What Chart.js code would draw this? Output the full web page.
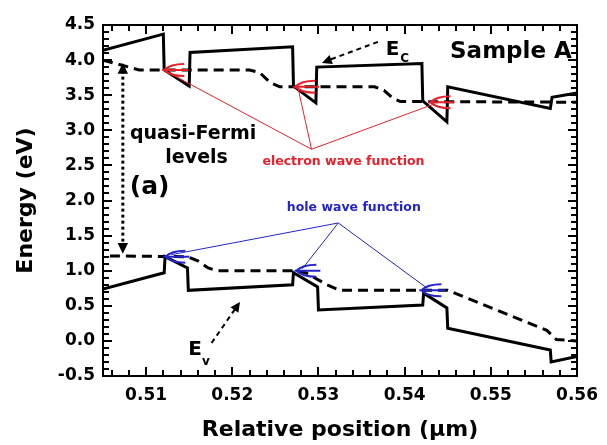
<!DOCTYPE html>
<html>
<head>
<meta charset="utf-8">
<script src="https://cdn.jsdelivr.net/npm/chart.js@4.4.1/dist/chart.umd.min.js"></script>
<style>
  html, body { margin: 0; padding: 0; background: #fff; }
  #wrap { width: 607px; height: 445px; }
</style>
</head>
<body>
<div id="wrap"><canvas id="bandChart" width="607" height="445"></canvas></div>
<script>
// conduction band edge (Ec)
const ecX = [0.5050, 0.5120, 0.5121, 0.5150, 0.5151, 0.5270, 0.5271, 0.5297, 0.5298, 0.5420, 0.5421, 0.5449, 0.5450, 0.5569, 0.5571, 0.5600];
const ecY = [4.14, 4.37, 3.86, 3.63, 4.11, 4.19, 3.63, 3.39, 3.90, 3.95, 3.42, 3.12, 3.62, 3.31, 3.47, 3.53];

// valence band edge (Ev)
const evX = [0.5050, 0.5121, 0.5122, 0.5148, 0.5149, 0.5270, 0.5271, 0.5299, 0.5300, 0.5421, 0.5422, 0.5449, 0.5450, 0.5569, 0.5570, 0.5600];
const evY = [0.74, 0.97, 1.20, 1.04, 0.72, 0.80, 0.97, 0.77, 0.44, 0.51, 0.68, 0.47, 0.18, -0.13, -0.30, -0.22];

// electron quasi-Fermi level
const efnX = [0.5050, 0.5092, 0.5220, 0.5232, 0.5244, 0.5255, 0.5365, 0.5376, 0.5386, 0.5395, 0.5600];
const efnY = [4.00, 3.86, 3.86, 3.82, 3.68, 3.62, 3.62, 3.57, 3.46, 3.41, 3.40];

// hole quasi-Fermi level
const efpX = [0.5058, 0.5148, 0.5160, 0.5172, 0.5182, 0.5270, 0.5285, 0.5310, 0.5325, 0.5450, 0.5565, 0.5576, 0.5600];
const efpY = [1.21, 1.20, 1.14, 1.04, 1.00, 1.00, 0.97, 0.80, 0.72, 0.72, 0.15, 0.02, 0.00];

// wave function ground states
const elecWfX = [0.5121, 0.5273, 0.5430];
const elecWfY = [3.86, 3.62, 3.40];
const holeWfX = [0.5127, 0.5279, 0.5424];
const holeWfY = [1.20, 1.00, 0.72];

const xTicks = [0.51, 0.52, 0.53, 0.54, 0.55, 0.56];
const yTicks = [-0.5, 0.0, 0.5, 1.0, 1.5, 2.0, 2.5, 3.0, 3.5, 4.0, 4.5];

const FONT = 'DejaVu Sans';
const RED = '#e8202a';
const BLUE = '#2424c8';

function toPoints(xs, ys) {
    return xs.map((x, i) => ({x: x, y: ys[i]}));
}

function headAt(ctx, x0, y0, x1, y1, size) {
    const ang = Math.atan2(y1 - y0, x1 - x0);
    ctx.beginPath();
    ctx.moveTo(x1, y1);
    ctx.lineTo(x1 - size * Math.cos(ang - 0.45), y1 - size * Math.sin(ang - 0.45));
    ctx.lineTo(x1 - size * Math.cos(ang + 0.45), y1 - size * Math.sin(ang + 0.45));
    ctx.closePath();
    ctx.fill();
}

function wfMarker(ctx, mx, my) {
    ctx.beginPath();
    ctx.moveTo(mx + 20, my - 6);
    ctx.quadraticCurveTo(mx + 6, my - 6, mx, my);
    ctx.quadraticCurveTo(mx + 6, my + 6, mx + 20, my + 6);
    ctx.moveTo(mx - 2, my);
    ctx.lineTo(mx + 24, my);
    ctx.stroke();
}

// frame and inward major/minor ticks, drawn last
const frameTicks = {
    id: 'frameTicks',
    afterDraw(chart) {
        const {ctx, chartArea: a, scales} = chart;
        ctx.save();
        ctx.strokeStyle = '#000';
        ctx.lineWidth = 2;
        ctx.strokeRect(a.left, a.top, a.right - a.left, a.bottom - a.top);
        ctx.fillStyle = '#000';
        for (let i = 253; i <= 280; i++) {
            const xx = Math.round(scales.x.getPixelForValue(i * 0.002));
            const len = i % 5 === 0 ? 9 : 6;
            ctx.fillRect(xx - 1, a.bottom - len, 2, len);
            ctx.fillRect(xx - 1, a.top, 2, len);
        }
        for (let i = -5; i <= 45; i++) {
            const yy = Math.round(scales.y.getPixelForValue(i / 10));
            const len = i % 5 === 0 ? 9 : 6;
            ctx.fillRect(a.left, yy - 1, len, 2);
            ctx.fillRect(a.right - len, yy - 1, len, 2);
        }
        ctx.restore();
    }
};

const bandDecor = {
    id: 'bandDecor',
    afterDatasetsDraw(chart) {
        const {ctx, scales: {x, y}} = chart;
        const px = v => x.getPixelForValue(v);
        const py = v => y.getPixelForValue(v);
        ctx.save();

        // quasi-Fermi dotted double arrow
        ctx.strokeStyle = '#000';
        ctx.fillStyle = '#000';
        ctx.lineWidth = 3;
        ctx.setLineDash([3, 3]);
        const qx = px(0.5073);
        ctx.beginPath();
        ctx.moveTo(qx, py(3.85)); ctx.lineTo(qx, py(1.36));
        ctx.stroke();
        ctx.setLineDash([]);
        headAt(ctx, qx, py(3.5), qx, py(3.96), 12);
        headAt(ctx, qx, py(1.6), qx, py(1.24), 12);

        // Ec / Ev dashed pointers
        ctx.lineWidth = 2;
        ctx.setLineDash([5, 4]);
        ctx.beginPath();
        ctx.moveTo(px(0.5369), py(4.26)); ctx.lineTo(px(0.5312), py(4.00));
        ctx.moveTo(px(0.5176), py(-0.03)); ctx.lineTo(px(0.5203), py(0.45));
        ctx.stroke();
        ctx.setLineDash([]);
        headAt(ctx, px(0.5369), py(4.26), px(0.5304), py(3.96), 11);
        headAt(ctx, px(0.5176), py(-0.03), px(0.5209), py(0.555), 11);

        // wave function pointers and markers
        ctx.lineWidth = 1;
        ctx.strokeStyle = RED;
        ctx.beginPath();
        elecWfX.forEach((v, i) => {
            ctx.moveTo(px(0.5292), py(2.73));
            ctx.lineTo(px(v) + 3, py(elecWfY[i]) + 2);
        });
        ctx.stroke();
        ctx.lineWidth = 2;
        elecWfX.forEach((v, i) => wfMarker(ctx, px(v), py(elecWfY[i])));

        ctx.lineWidth = 1;
        ctx.strokeStyle = BLUE;
        ctx.beginPath();
        holeWfX.forEach((v, i) => {
            ctx.moveTo(px(0.5323), py(1.68));
            ctx.lineTo(px(v) + 2, py(holeWfY[i]) - 2);
        });
        ctx.stroke();
        ctx.lineWidth = 2;
        holeWfX.forEach((v, i) => wfMarker(ctx, px(v) - 4, py(holeWfY[i])));

        // texts
        ctx.textBaseline = 'middle';
        ctx.fillStyle = '#000';
        ctx.textAlign = 'right';
        ctx.font = `bold 23px "${FONT}"`;
        ctx.fillText('Sample A', px(0.5594), py(4.115));
        ctx.textAlign = 'center';
        ctx.font = `bold 19px "${FONT}"`;
        ctx.fillText('quasi-Fermi', px(0.51546), py(2.947));
        ctx.fillText('levels', px(0.51586), py(2.605));
        ctx.textAlign = 'left';
        ctx.font = `bold 25px "${FONT}"`;
        ctx.fillText('(a)', px(0.5081), py(2.19));
        ctx.font = `bold 20px "${FONT}"`;
        ctx.fillText('E', px(0.5378), py(4.14));
        ctx.fillText('E', px(0.5149), py(-0.13));
        ctx.font = `bold 12px "${FONT}"`;
        ctx.fillText('C', px(0.5395), py(4.02));
        ctx.fillText('v', px(0.5165), py(-0.30));

        ctx.textAlign = 'center';
        ctx.font = `bold 12.5px "${FONT}"`;
        ctx.fillStyle = RED;
        ctx.fillText('electron wave function', px(0.5329), py(2.55));
        ctx.fillStyle = BLUE;
        ctx.fillText('hole wave function', px(0.5341), py(1.89));

        ctx.restore();
    }
};

const tickFont = {family: FONT, weight: 'bold', size: 17};
const titleFont = {family: FONT, weight: 'bold', size: 22};

new Chart(document.getElementById('bandChart'), {
    type: 'line',
    data: {
        datasets: [
            {label: 'Ec', data: toPoints(ecX, ecY), borderColor: '#000', borderWidth: 3},
            {label: 'Efn', data: toPoints(efnX, efnY), borderColor: '#000', borderWidth: 3, borderDash: [10, 6]},
            {label: 'Ev', data: toPoints(evX, evY), borderColor: '#000', borderWidth: 3},
            {label: 'Efp', data: toPoints(efpX, efpY), borderColor: '#000', borderWidth: 3, borderDash: [10, 6]}
        ]
    },
    options: {
        responsive: false,
        animation: false,
        devicePixelRatio: 1,
        elements: {point: {radius: 0}, line: {tension: 0}},
        layout: {padding: {left: 0, top: 25, right: 23, bottom: 0}},
        plugins: {legend: {display: false}, tooltip: {enabled: false}},
        scales: {
            x: {
                type: 'linear',
                min: 0.505,
                max: 0.56,
                afterBuildTicks: s => { s.ticks = xTicks.map(v => ({value: v})); },
                afterFit: s => { s.height = 69; },
                grid: {display: false, drawTicks: false},
                border: {display: false},
                ticks: {padding: 9, color: '#000', font: tickFont, maxRotation: 0, callback: v => v.toFixed(2)},
                title: {display: true, text: 'Relative position (μm)', color: '#000', font: titleFont, padding: {top: 0, bottom: 2}}
            },
            y: {
                type: 'linear',
                min: -0.5,
                max: 4.5,
                afterBuildTicks: s => { s.ticks = yTicks.map(v => ({value: v})); },
                afterFit: s => { s.width = 103; },
                grid: {display: false, drawTicks: false},
                border: {display: false},
                ticks: {padding: 8, color: '#000', font: tickFont, callback: v => v.toFixed(1)},
                title: {display: true, text: 'Energy (eV)', color: '#000', font: titleFont, padding: {top: 13, bottom: 0}}
            }
        }
    },
    plugins: [bandDecor, frameTicks]
});
</script>
</body>
</html>
